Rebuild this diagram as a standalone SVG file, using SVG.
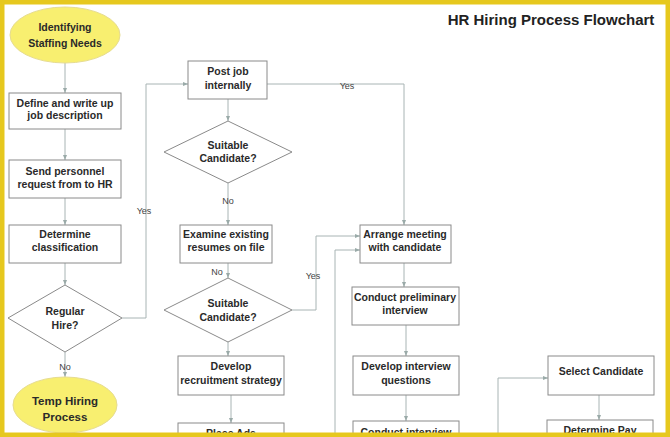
<svg xmlns="http://www.w3.org/2000/svg" width="670" height="437" viewBox="0 0 670 437">
<defs>
<style>
.b{fill:#fff;stroke:#8a8a8a;stroke-width:1}
.t{font-family:"Liberation Sans",Arial,sans-serif;font-size:10.5px;font-weight:bold;fill:#2a2a2a;text-anchor:middle}
.l{font-family:"Liberation Sans",Arial,sans-serif;font-size:9px;fill:#444;text-anchor:middle}
.c{fill:none;stroke:#a8b4b4;stroke-width:1;marker-end:url(#a)}
.y{fill:#f8ef70;stroke:#e6dc90;stroke-width:1}
</style>
<marker id="a" markerWidth="6" markerHeight="6" refX="5" refY="3" orient="auto"><path d="M0,1 L5,3 L0,5z" fill="#9aaaa8"/></marker>
</defs>
<rect width="670" height="437" fill="#fff"/>
<text x="551" y="25" style="font-family:'Liberation Sans',Arial,sans-serif;font-size:15px;font-weight:bold;fill:#222;text-anchor:middle">HR Hiring Process Flowchart</text>
<g id="connectors">
<path class="c" d="M65,63 V93"/>
<path class="c" d="M65,129 V160"/>
<path class="c" d="M65,198 V225"/>
<path class="c" d="M65,263 V285"/>
<path class="c" d="M65,352 V377"/>
<path class="c" d="M122,318 H146 V84 H188"/>
<path class="c" d="M228,99 V121"/>
<path class="c" d="M228,183 V225"/>
<path class="c" d="M228,263 V278"/>
<path class="c" d="M292,310 H316 V236 H360"/>
<path class="c" d="M228,342 V356"/>
<path class="c" d="M231,395 V423"/>
<path class="c" d="M267,84 H404 V225"/>
<path class="c" d="M335,437 V250 H360"/>
<path class="c" d="M404,263 V287"/>
<path class="c" d="M406,325 V356"/>
<path class="c" d="M406,395 V421"/>
<path class="c" d="M498,437 V378 H548"/>
<path class="c" d="M599,395 V420"/>
<text class="l" x="144" y="214">Yes</text>
<text class="l" x="228" y="204">No</text>
<text class="l" x="217" y="275">No</text>
<text class="l" x="313" y="279">Yes</text>
<text class="l" x="347" y="89">Yes</text>
<text class="l" x="65" y="370">No</text>
</g>
<g id="start"><ellipse class="y" cx="65" cy="35" rx="55" ry="28"/><text class="t" x="65" y="31">Identifying</text><text class="t" x="65" y="47">Staffing Needs</text></g>
<g id="define"><rect class="b" x="9" y="93" width="112" height="36"/><text class="t" x="65" y="107">Define and write up</text><text class="t" x="65" y="119">job description</text></g>
<g id="send"><rect class="b" x="9" y="160" width="112" height="38"/><text class="t" x="65" y="175">Send personnel</text><text class="t" x="65" y="188">request from to HR</text></g>
<g id="classify"><rect class="b" x="9" y="225" width="112" height="38"/><text class="t" x="65" y="238">Determine</text><text class="t" x="65" y="251">classification</text></g>
<g id="regular"><polygon class="b" points="65,285 122,318 65,352 8,318"/><text class="t" x="65" y="315">Regular</text><text class="t" x="65" y="329">Hire?</text></g>
<g id="temp"><ellipse class="y" cx="65" cy="405" rx="52" ry="28"/><text class="t" x="65" y="405" style="font-size:11.5px">Temp Hiring</text><text class="t" x="65" y="421" style="font-size:11.5px">Process</text></g>
<g id="post"><rect class="b" x="188" y="61" width="79" height="38"/><text class="t" x="228" y="75">Post job</text><text class="t" x="228" y="89">internally</text></g>
<g id="suit1"><polygon class="b" points="228,121 292,152 228,183 164,152"/><text class="t" x="228" y="149">Suitable</text><text class="t" x="228" y="162">Candidate?</text></g>
<g id="examine"><rect class="b" x="180" y="225" width="92" height="38"/><text class="t" x="226" y="238">Examine existing</text><text class="t" x="226" y="251">resumes on file</text></g>
<g id="suit2"><polygon class="b" points="228,278 292,310 228,342 164,310"/><text class="t" x="228" y="307">Suitable</text><text class="t" x="228" y="321">Candidate?</text></g>
<g id="strategy"><rect class="b" x="178" y="356" width="106" height="39"/><text class="t" x="231" y="370">Develop</text><text class="t" x="231" y="384">recruitment strategy</text></g>
<g id="ads"><rect class="b" x="178" y="423" width="106" height="30"/><text class="t" x="231" y="437">Place Ads</text></g>
<g id="arrange"><rect class="b" x="360" y="225" width="91" height="38"/><text class="t" x="405" y="238">Arrange meeting</text><text class="t" x="405" y="251">with candidate</text></g>
<g id="prelim"><rect class="b" x="352" y="287" width="107" height="38"/><text class="t" x="405" y="301">Conduct preliminary</text><text class="t" x="405" y="314">interview</text></g>
<g id="questions"><rect class="b" x="353" y="356" width="106" height="39"/><text class="t" x="406" y="370">Develop interview</text><text class="t" x="406" y="384">questions</text></g>
<g id="interview"><rect class="b" x="353" y="421" width="106" height="30"/><text class="t" x="406" y="436">Conduct interview</text></g>
<g id="select"><rect class="b" x="548" y="356" width="106" height="39"/><text class="t" x="601" y="375">Select Candidate</text></g>
<g id="pay"><rect class="b" x="547" y="420" width="106" height="30"/><text class="t" x="600" y="434">Determine Pay</text></g>
<rect x="2" y="2" width="666" height="433" fill="none" stroke="#e6c81e" stroke-width="5"/>
</svg>
